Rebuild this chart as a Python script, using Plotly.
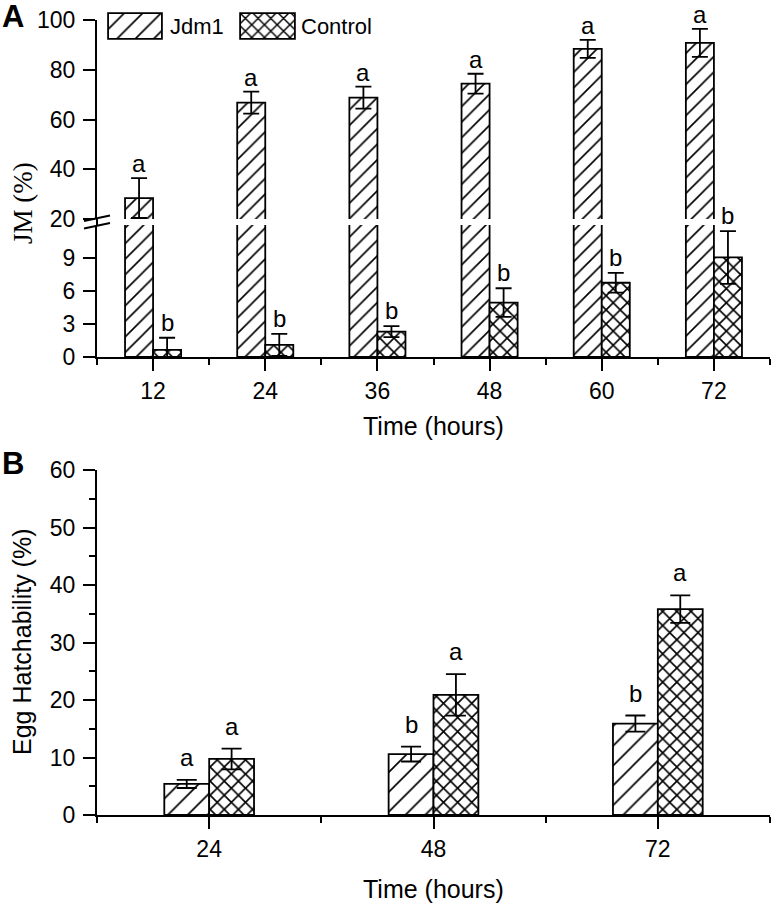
import plotly.graph_objects as go

W, H = 774, 908

# ---------------- Data ----------------
# Panel A: JM (%)
times_a = [12, 24, 36, 48, 60, 72]
jdm1_a = [28.4, 66.8, 68.8, 74.4, 88.4, 90.8]
jdm1_a_err = [8.0, 4.4, 4.4, 4.0, 3.6, 5.6]
jdm1_a_letters = ["a", "a", "a", "a", "a", "a"]
control_a = [0.65, 1.1, 2.3, 4.95, 6.75, 9.05]
control_a_err = [1.1, 1.0, 0.5, 1.3, 0.9, 2.4]
control_a_letters = ["b", "b", "b", "b", "b", "b"]
a_low_ticks = [0, 3, 6, 9]
a_high_ticks = [20, 40, 60, 80, 100]

# Panel B: Egg Hatchability (%)
times_b = [24, 48, 72]
jdm1_b = [5.4, 10.6, 15.9]
jdm1_b_err = [0.7, 1.3, 1.4]
jdm1_b_letters = ["a", "b", "b"]
control_b = [9.75, 20.9, 35.8]
control_b_err = [1.8, 3.6, 2.4]
control_b_letters = ["a", "a", "a"]

series_names = ["Jdm1", "Control"]

# ---------------- Style ----------------
FONT = "Liberation Sans"
SERIF = "Liberation Serif"
WA, WB = 3.0, 4.8  # bar widths (data units)


def px(x):
    return x / W


def py(y):
    return 1 - y / H


def marker(shape, size, solidity=0.15):
    return dict(color="white", line=dict(color="black", width=1.8),
                pattern=dict(shape=shape, size=size, solidity=solidity,
                             fgcolor="black", bgcolor="white", fgopacity=1))


def err(arr, w):
    return dict(type="data", array=arr, visible=True, color="black",
                thickness=1.8, width=w)


fig = go.Figure()

# Panel A lower segment
fig.add_trace(go.Bar(x=times_a, y=jdm1_a, width=WA, offset=-WA, xaxis="x", yaxis="y",
                     marker=marker("/", 11), showlegend=False, name=series_names[0]))
fig.add_trace(go.Bar(x=times_a, y=control_a, width=WA, offset=0, xaxis="x", yaxis="y",
                     marker=marker("x", 10, 0.3), error_y=err(control_a_err, 8),
                     showlegend=False, name=series_names[1]))
# Panel A upper segment
fig.add_trace(go.Bar(x=times_a, y=jdm1_a, width=WA, offset=-WA, xaxis="x", yaxis="y2",
                     marker=marker("/", 11), error_y=err(jdm1_a_err, 8),
                     showlegend=False, name=series_names[0]))
# Panel B
fig.add_trace(go.Bar(x=times_b, y=jdm1_b, width=WB, offset=-WB, xaxis="x2", yaxis="y3",
                     marker=marker("/", 14, 0.12), error_y=err(jdm1_b_err, 10),
                     showlegend=False, name=series_names[0]))
fig.add_trace(go.Bar(x=times_b, y=control_b, width=WB, offset=0, xaxis="x2", yaxis="y3",
                     marker=marker("x", 10, 0.3), error_y=err(control_b_err, 10),
                     showlegend=False, name=series_names[1]))

# Custom legend swatches
fig.add_trace(go.Bar(x=[0], y=[1], width=1, xaxis="x3", yaxis="y4",
                     marker=marker("/", 13, 0.13), showlegend=False, hoverinfo="skip"))
fig.add_trace(go.Bar(x=[0], y=[1], width=1, xaxis="x4", yaxis="y5",
                     marker=marker("x", 9, 0.3), showlegend=False, hoverinfo="skip"))

tickfont = dict(family=FONT, size=23, color="black")
common = dict(showline=True, linecolor="black", linewidth=2, ticks="outside",
              tickcolor="black", tickwidth=2, ticklen=12, showgrid=False,
              zeroline=False, tickfont=tickfont, automargin=False, fixedrange=True)

xdom = [px(97), px(770)]
hidden = dict(visible=False, fixedrange=True)

fig.update_layout(
    width=W, height=H, template="none",
    margin=dict(l=0, r=0, t=0, b=0),
    paper_bgcolor="white", plot_bgcolor="rgba(0,0,0,0)",
    barmode="overlay", showlegend=False,
    xaxis=dict(common, domain=xdom, range=[6, 78], anchor="y",
               tickmode="linear", tick0=0, dtick=12,
               minor=dict(ticks="outside", ticklen=6, tickwidth=2, tickcolor="black",
                          tick0=0, dtick=6)),
    yaxis=dict(common, domain=[py(357), py(225)], range=[0, 12], anchor="x",
               tickmode="array", tickvals=a_low_ticks, ticklabelstandoff=3),
    yaxis2=dict(common, domain=[py(219), py(20)], range=[20, 100], anchor="x",
                tickmode="array", tickvals=a_high_ticks, ticklabelstandoff=3),
    xaxis2=dict(common, domain=xdom, range=[12, 84], anchor="y3",
                tickmode="linear", tick0=0, dtick=24,
                minor=dict(ticks="outside", ticklen=6, tickwidth=2, tickcolor="black",
                           tick0=0, dtick=12)),
    yaxis3=dict(common, domain=[py(815), py(470)], range=[0, 60], anchor="x2",
                tickmode="linear", tick0=0, dtick=10, ticklabelstandoff=3,
                minor=dict(ticks="outside", ticklen=6, tickwidth=2, tickcolor="black",
                           tick0=0, dtick=5)),
    xaxis3=dict(hidden, domain=[px(107), px(163)], range=[-0.52, 0.52], anchor="y4"),
    yaxis4=dict(hidden, domain=[py(40), py(12)], range=[-0.04, 1.04], anchor="x3"),
    xaxis4=dict(hidden, domain=[px(239), px(296)], range=[-0.52, 0.52], anchor="y5"),
    yaxis5=dict(hidden, domain=[py(40), py(12)], range=[-0.04, 1.04], anchor="x4"),
)

ann = []
letter_font = dict(family=FONT, size=24, color="black")
for t, v, e, s in zip(times_a, jdm1_a, jdm1_a_err, jdm1_a_letters):
    ann.append(dict(x=t - WA / 2, y=v + e, xref="x", yref="y2", text=s, showarrow=False,
                    yanchor="bottom", yshift=0, borderpad=0, font=letter_font))
for t, v, e, s in zip(times_a, control_a, control_a_err, control_a_letters):
    ann.append(dict(x=t + WA / 2, y=v + e, xref="x", yref="y", text=s, showarrow=False,
                    yanchor="bottom", yshift=1, borderpad=0, font=letter_font))
for t, v, e, s in zip(times_b, jdm1_b, jdm1_b_err, jdm1_b_letters):
    ann.append(dict(x=t - WB / 2, y=v + e, xref="x2", yref="y3", text=s, showarrow=False,
                    yanchor="bottom", yshift=8, borderpad=0, font=letter_font))
for t, v, e, s in zip(times_b, control_b, control_b_err, control_b_letters):
    ann.append(dict(x=t + WB / 2, y=v + e, xref="x2", yref="y3", text=s, showarrow=False,
                    yanchor="bottom", yshift=8, borderpad=0, font=letter_font))

title_font = dict(family=FONT, size=25, color="black")
ann += [
    dict(x=px(0), y=py(16), xref="paper", yref="paper", text="<b>A</b>", showarrow=False,
         xanchor="left", yanchor="middle", font=dict(family=FONT, size=31, color="black")),
    dict(x=px(0), y=py(463), xref="paper", yref="paper", text="<b>B</b>", showarrow=False,
         xanchor="left", yanchor="middle", font=dict(family=FONT, size=31, color="black")),
    dict(x=px(23), y=py(203), xref="paper", yref="paper", text="JM (%)", showarrow=False,
         textangle=-90, xanchor="center", yanchor="middle",
         font=dict(family=SERIF, size=27, color="black")),
    dict(x=px(22), y=py(642), xref="paper", yref="paper", text="Egg Hatchability (%)",
         showarrow=False, textangle=-90, xanchor="center", yanchor="middle", font=title_font),
    dict(x=px(433), y=py(426), xref="paper", yref="paper", text="Time (hours)",
         showarrow=False, xanchor="center", yanchor="middle", font=title_font),
    dict(x=px(433), y=py(889), xref="paper", yref="paper", text="Time (hours)",
         showarrow=False, xanchor="center", yanchor="middle", font=title_font),
    dict(x=px(168), y=py(26), xref="paper", yref="paper", text=series_names[0],
         showarrow=False, xanchor="left", yanchor="middle",
         font=dict(family=FONT, size=22, color="black")),
    dict(x=px(299), y=py(26), xref="paper", yref="paper", text=series_names[1],
         showarrow=False, xanchor="left", yanchor="middle",
         font=dict(family=FONT, size=22, color="black")),
]
fig.update_layout(annotations=ann)

# Axis break decoration on panel A
shapes = [
    dict(type="line", xref="paper", yref="paper", x0=px(97), x1=px(97),
         y0=py(226), y1=py(218), line=dict(color="black", width=2)),
    dict(type="line", xref="paper", yref="paper", x0=px(84), x1=px(110),
         y0=py(221), y1=py(215.5), line=dict(color="black", width=2)),
    dict(type="line", xref="paper", yref="paper", x0=px(84), x1=px(110),
         y0=py(228.5), y1=py(223), line=dict(color="black", width=2)),
]
fig.update_layout(shapes=shapes)

fig.write_html(
    "out.html",
    config={"displayModeBar": False, "staticPlot": True},
    post_script="document.body.style.margin='0';document.body.style.overflow='hidden';",
)
